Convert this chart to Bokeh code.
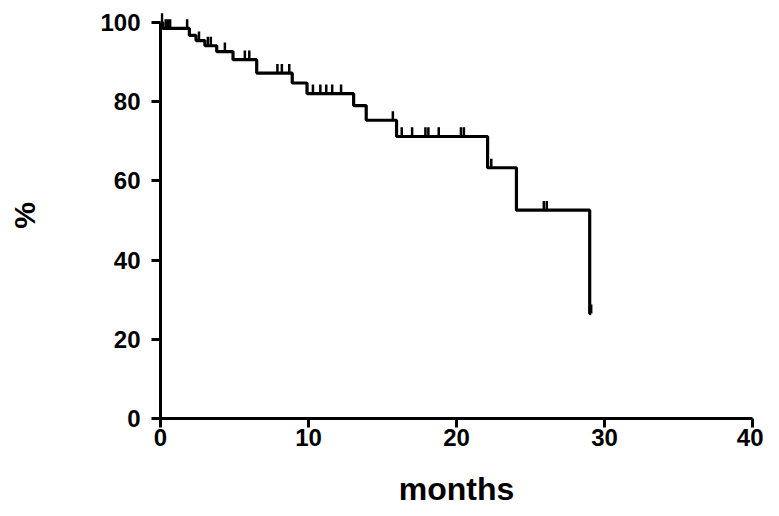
import numpy as np
from bokeh.plotting import figure
from bokeh.models import Range1d, FixedTicker
from bokeh.embed import file_html
from bokeh.resources import INLINE

# Kaplan-Meier step data (months, survival %)
event_months = [0, 0.15, 1.95, 2.4, 3.0, 3.8, 4.9, 6.5, 8.9, 9.9, 13.05, 13.9, 15.95, 22.1, 24.05, 29.0]
survival_pct = [100, 98.5, 96.7, 95.4, 94.1, 92.6, 90.6, 87.2, 84.7, 82.0, 79.0, 75.3, 71.2, 63.3, 52.6, 26.5]
# censored observations (months)
censored_months = [0.1, 0.35, 0.5, 0.65, 1.8, 2.6, 3.2, 3.4, 4.35, 5.7, 6.0, 7.9, 8.2, 8.7,
                   10.3, 10.8, 11.2, 11.6, 12.2, 15.7, 16.3, 17.0, 17.9, 18.1, 18.8, 20.3, 20.5,
                   22.35, 25.9, 26.1, 29.1]
x_ticks = [0, 10, 20, 30, 40]
y_ticks = [0, 20, 40, 60, 80, 100]

FONT = "Liberation Sans"

ev = np.array(event_months, dtype=float)
sv = np.array(survival_pct, dtype=float)
cm = np.array(censored_months, dtype=float)
idx = np.searchsorted(ev, cm, side="right") - 1
c_level = sv[idx]

# extend final step to last censored observation
step_x = list(ev) + [max(cm.max(), ev.max())]
step_y = list(sv) + [sv[-1]]

p = figure(width=763, height=510, x_range=Range1d(0, 40), y_range=Range1d(0, 102.5),
           output_backend="svg", toolbar_location=None,
           min_border_left=160, min_border_right=11, min_border_top=12, min_border_bottom=92)
p.outline_line_color = None
p.xgrid.visible = False
p.ygrid.visible = False
p.background_fill_color = "white"
p.border_fill_color = "white"

p.step(step_x, step_y, mode="after", line_color="black", line_width=3.2)
p.segment(x0=cm, y0=c_level, x1=cm, y1=c_level + 2.3, line_color="black", line_width=2.5)

for ax in (p.xaxis[0], p.yaxis[0]):
    ax.axis_line_width = 3
    ax.axis_line_color = "black"
    ax.major_tick_line_width = 3
    ax.major_tick_line_color = "black"
    ax.major_tick_out = 9
    ax.major_tick_in = 0
    ax.minor_tick_line_color = None
    ax.major_label_text_font = FONT
    ax.major_label_text_font_style = "bold"
    ax.major_label_text_font_size = "24px"
    ax.major_label_text_color = "black"
    ax.axis_label_text_font = FONT
    ax.axis_label_text_font_style = "bold"
    ax.axis_label_text_font_size = "32px"
    ax.axis_label_text_color = "black"

p.yaxis.axis_label_text_font_size = "30px"
p.xaxis.ticker = FixedTicker(ticks=x_ticks)
p.yaxis.ticker = FixedTicker(ticks=y_ticks)
p.xaxis.bounds = (0, 40)
p.yaxis.bounds = (0, 100)
p.xaxis.axis_label = "months"
p.yaxis.axis_label = "%"
p.xaxis.major_label_standoff = 1
p.yaxis.major_label_standoff = 11
p.xaxis.axis_label_standoff = 22
p.yaxis.axis_label_standoff = 56

open("out.html", "w").write(file_html(p, INLINE))
